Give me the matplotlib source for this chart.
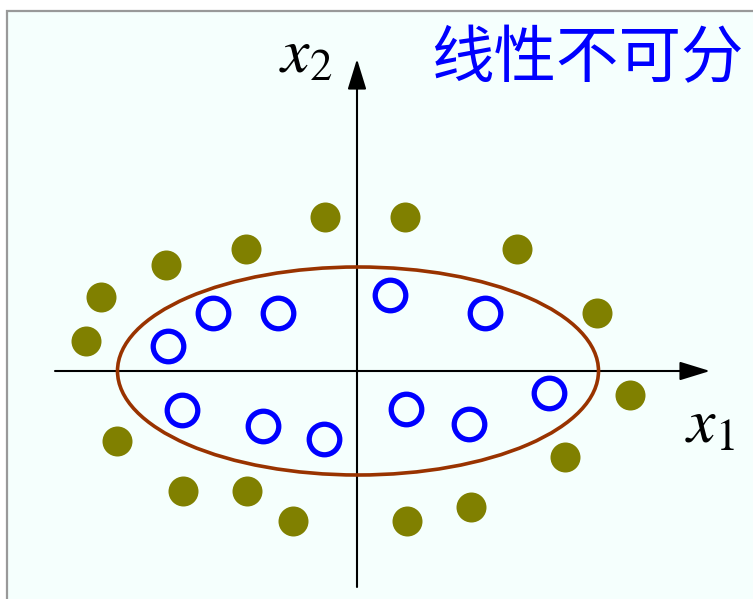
import matplotlib
matplotlib.use('agg')
import matplotlib.pyplot as plt
from matplotlib.patches import Ellipse, Rectangle

plt.rcParams['mathtext.fontset'] = 'stix'

# class 1 (outside the ellipse), filled olive dots
outer_x = [-3.2, 4.8, -11.1, 16.0, -19.1, -25.6, 24.0, -27.1, 27.3, -24.0, 20.8, -17.4, -11.0, 11.4, -6.4, 5.0]
outer_y = [15.4, 15.4, 12.2, 12.2, 10.6, 7.4, 5.8, 3.0, -2.4, -7.0, -8.6, -12.0, -12.0, -13.6, -15.0, -15.0]

# class 2 (inside the ellipse), open blue circles
inner_x = [3.3, -14.4, -7.9, 12.8, -18.9, 19.2, -17.5, 4.9, -9.4, 11.2, -3.3]
inner_y = [7.6, 5.8, 5.8, 5.8, 2.5, -2.2, -3.9, -3.8, -5.5, -5.3, -6.8]

# decision boundary
ell_center = (0.1, 0.0)
ell_w, ell_h = 48.1, 20.8

title = "线性不可分"
bg = '#F5FFFD'

fig = plt.figure(figsize=(7.53, 5.99), dpi=100)
fig.patch.set_facecolor('white')
ax = fig.add_axes([0, 0, 1, 1])
ax.set_xlim(-35.7, 39.6)
ax.set_ylim(-22.8, 37.1)
ax.axis('off')

# panel background with grey border on top/left
ax.add_patch(Rectangle((7 / 753, -0.2), 1.3, 1.2 - 11 / 599, transform=ax.transAxes,
                       facecolor=bg, edgecolor='#999999', lw=1.6, zorder=0))

# axes arrows
arrow = dict(arrowstyle='-|>,head_length=1.3,head_width=0.4', mutation_scale=14.4,
             lw=1.5, color='black', shrinkA=0, shrinkB=0)
ax.annotate('', xy=(35.3, 0), xytext=(-30.2, 0), arrowprops=arrow, zorder=2)
ax.annotate('', xy=(0, 31.2), xytext=(0, -21.6), arrowprops=arrow, zorder=2)

ax.add_patch(Ellipse(ell_center, ell_w, ell_h, fill=False, edgecolor='#993300', lw=2.6, zorder=3))

ax.plot(outer_x, outer_y, 'o', color='#808000', markersize=21.6, markeredgewidth=0, zorder=4)
ax.plot(inner_x, inner_y, 'o', markerfacecolor='none', markeredgecolor='#0000FF',
        markersize=22.0, markeredgewidth=3.8, zorder=4)

ax.text(-5.1, 31.6, r'$x_2$', fontsize=46, ha='center', va='center')
ax.text(35.3, -5.4, r'$x_1$', fontsize=46, ha='center', va='center')
ax.text(23.05, 31.15, title, fontsize=45, color='#0000FF', ha='center', va='center',
        family=['Noto Sans CJK SC', 'DejaVu Sans'])

fig.savefig('out.png', dpi=100)
